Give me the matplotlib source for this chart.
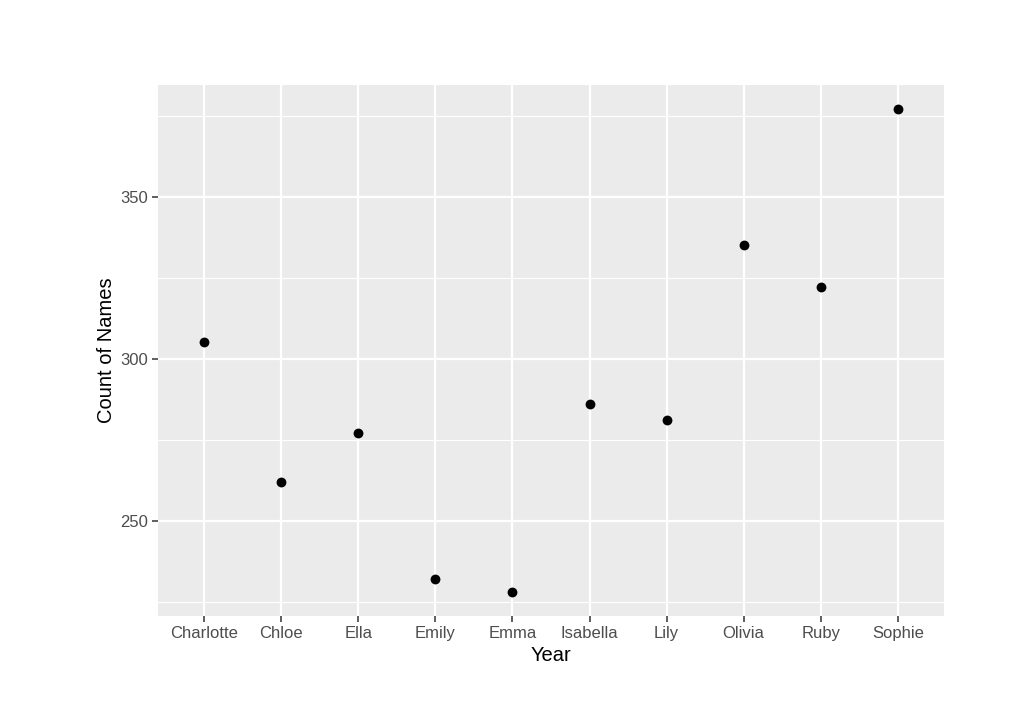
import matplotlib
matplotlib.use("Agg")
import matplotlib.pyplot as plt
from matplotlib.ticker import FixedLocator

names = ["Charlotte", "Chloe", "Ella", "Emily", "Emma", "Isabella", "Lily", "Olivia", "Ruby", "Sophie"]
counts = [305, 262, 277, 232, 228, 286, 281, 335, 322, 377]
y_major = [250, 300, 350]
y_minor = [225, 275, 325, 375]

plt.rcParams['font.family'] = ['Liberation Sans', 'DejaVu Sans']

fig = plt.figure(figsize=(10.24, 7.01), dpi=100)
W, H = 1024, 701
ax = fig.add_axes([158 / W, 1 - 616 / H, (944 - 158) / W, (616 - 85) / H])
ax.set_facecolor('#EBEBEB')
for s in ax.spines.values():
    s.set_visible(False)

x = list(range(1, len(names) + 1))
ax.set_xlim(0.4, len(names) + 0.6)
lo, hi = min(counts), max(counts)
pad = (hi - lo) * 0.05
ax.set_ylim(lo - pad, hi + pad)

ax.yaxis.set_major_locator(FixedLocator(y_major))
ax.yaxis.set_minor_locator(FixedLocator(y_minor))
ax.set_xticks(x)
ax.set_xticklabels(names)

ax.grid(which='major', color='white', linewidth=1.6)
ax.grid(which='minor', axis='y', color='white', linewidth=0.8)
ax.set_axisbelow(True)

ax.tick_params(which='major', length=4, width=1.1, color='#333333',
               labelcolor='#4D4D4D', labelsize=12, pad=3)
ax.tick_params(which='minor', length=0)

ax.scatter(x, counts, s=50, color='black', zorder=3, linewidths=0)

ax.set_xlabel('Year', fontsize=14.5, color='black', labelpad=4)
ax.set_ylabel('Count of Names', fontsize=14.5, color='black', labelpad=3)

fig.savefig('out.png', dpi=100, facecolor='white')
